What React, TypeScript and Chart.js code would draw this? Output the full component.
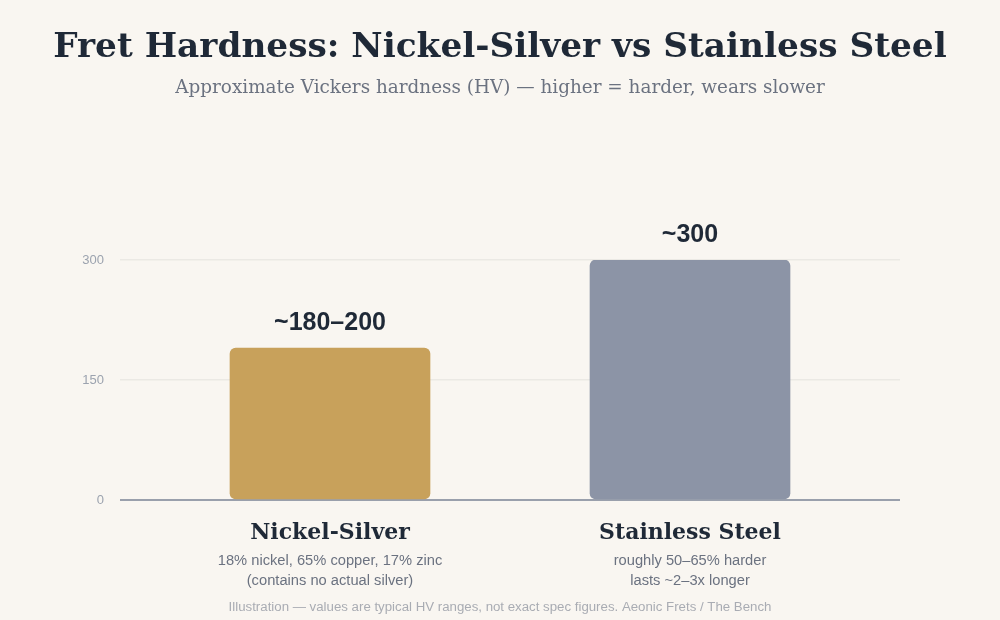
import React, { useEffect, useRef } from "react";
import { Chart, registerables } from "chart.js";

Chart.register(...registerables);

const categories = ["Nickel-Silver", "Stainless Steel"];
const hardnessValues = [190, 300];
const valueLabels = ["~180–200", "~300"];
const descriptionLines = [
  ["18% nickel, 65% copper, 17% zinc", "(contains no actual silver)"],
  ["roughly 50–65% harder", "lasts ~2–3x longer"],
];
const barColors = ["#c8a15b", "#8c94a6"];
const yTickValues = [0, 150, 300];

const titleText = "Fret Hardness: Nickel-Silver vs Stainless Steel";
const subtitleText = "Approximate Vickers hardness (HV) — higher = harder, wears slower";
const footerText =
  "Illustration — values are typical HV ranges, not exact spec figures. Aeonic Frets / The Bench";

const SERIF = "'DejaVu Serif', serif";
const SANS = "'Liberation Sans', Arial, sans-serif";

const textPlugin = {
  id: "textPlugin",
  beforeDraw(chart: any) {
    const { ctx, width, height } = chart;
    ctx.save();
    ctx.fillStyle = "#f9f6f1";
    ctx.fillRect(0, 0, width, height);
    ctx.restore();
  },
  afterDraw(chart: any) {
    const { ctx } = chart;
    const xScale = chart.scales.x;
    ctx.save();
    ctx.textAlign = "center";
    ctx.textBaseline = "middle";

    ctx.fillStyle = "#1f2937";
    ctx.font = `bold 34.3px ${SERIF}`;
    ctx.fillText(titleText, 500, 48);

    ctx.fillStyle = "#6b7280";
    ctx.font = `18.4px ${SERIF}`;
    ctx.fillText(subtitleText, 500, 88.5);

    const meta = chart.getDatasetMeta(0);
    meta.data.forEach((bar: any, i: number) => {
      ctx.fillStyle = "#1f2937";
      ctx.font = `bold 25px ${SANS}`;
      ctx.fillText(valueLabels[i], bar.x, bar.y - 25);
    });

    categories.forEach((name, i) => {
      const cx = xScale.getPixelForValue(i);
      ctx.fillStyle = "#1f2937";
      ctx.font = `bold 22px ${SERIF}`;
      ctx.fillText(name, cx, 533);
      ctx.fillStyle = "#6b7280";
      ctx.font = `14.7px ${SANS}`;
      descriptionLines[i].forEach((line, j) => {
        ctx.fillText(line, cx, 561 + j * 20);
      });
    });

    ctx.fillStyle = "#a9acb3";
    ctx.font = `13.25px ${SANS}`;
    ctx.fillText(footerText, 500, 607);
    ctx.restore();
  },
};

export default function App() {
  const canvasRef = useRef<HTMLCanvasElement | null>(null);

  useEffect(() => {
    if (!canvasRef.current) return;
    const chart = new Chart(canvasRef.current, {
      type: "bar",
      data: {
        datasets: [
          {
            data: hardnessValues.map((v, i) => ({ x: i, y: v })),
            backgroundColor: barColors,
            borderRadius: 6,
            borderSkipped: false,
            barThickness: 200,
          },
        ],
      },
      options: {
        responsive: false,
        animation: false,
        devicePixelRatio: 1,
        layout: { padding: { left: 0, right: 100, top: 260, bottom: 120 } },
        plugins: {
          legend: { display: false },
          tooltip: { enabled: false },
          title: { display: false },
        },
        scales: {
          x: {
            type: "linear",
            offset: false,
            min: -0.5833,
            max: 1.5833,
            display: false,
          },
          y: {
            min: 0,
            max: 300,
            afterFit(scale: any) {
              scale.width = 120;
            },
            afterBuildTicks(scale: any) {
              scale.ticks = yTickValues.map((v) => ({ value: v }));
            },
            border: { display: false },
            grid: {
              drawTicks: false,
              color: (c: any) => (c.tick && c.tick.value === 0 ? "#9aa0ac" : "#ebe9e4"),
              lineWidth: (c: any) => (c.tick && c.tick.value === 0 ? 2 : 1.5),
            },
            ticks: {
              padding: 16,
              color: "#9ca3af",
              font: { family: "'Liberation Sans', Arial, sans-serif", size: 13 },
            },
          },
        },
      },
      plugins: [textPlugin],
    } as any);
    return () => chart.destroy();
  }, []);

  return (
    <div style={{ position: "fixed", left: 0, top: 0, width: 1000, height: 620 }}>
      <canvas ref={canvasRef} width={1000} height={620} style={{ display: "block" }} />
    </div>
  );
}
